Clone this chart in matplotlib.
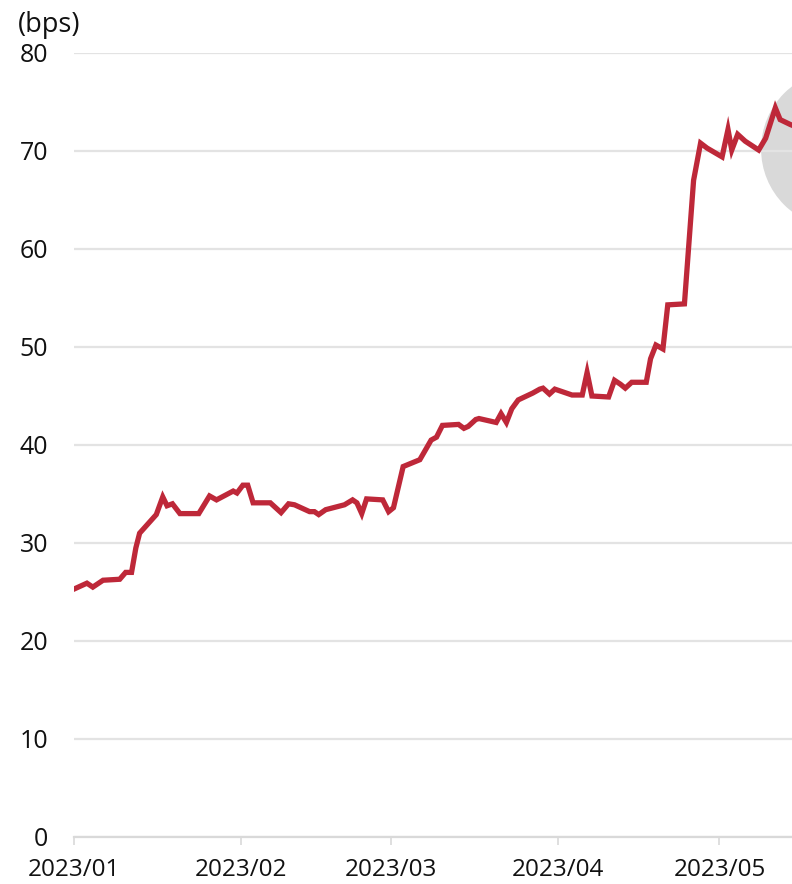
import matplotlib
matplotlib.use("Agg")
import matplotlib.pyplot as plt
import matplotlib.dates as mdates
from matplotlib.patches import Ellipse
import pandas as pd

plt.rcParams['font.family'] = ['Open Sans', 'DejaVu Sans']

# observation times (days after 2023-01-01) and spread values (bps)
day_offsets = [0, 2.4, 3.5, 5.4, 8.5, 9.6, 10.7, 11.5, 12.2, 15.3, 16.5, 17.3, 18.3, 19.7,
               23.2, 25.2, 26.5, 29.6, 30.3, 31.4, 32.3, 33.3, 36.5, 38.5, 39.9, 41.0, 43.8,
               44.7, 45.5, 46.8, 50.3, 51.8, 52.6, 53.5, 54.4, 57.4, 58.5, 59.4, 61.2, 64.3,
               66.4, 67.4, 68.5, 71.5, 72.5, 73.3, 74.7, 75.3, 78.5, 79.4, 80.4, 81.4, 82.6,
               85.3, 86.6, 87.2, 88.4, 89.4, 92.6, 94.5, 95.4, 96.3, 99.4, 100.5, 101.6,
               102.5, 103.7, 106.4, 107.2, 108.2, 109.5, 110.4, 113.5, 115.2, 116.5, 117.7,
               120.5, 121.6, 122.3, 123.4, 124.8, 127.3, 128.6, 130.4, 131.3, 133.2, 135]
values = [25.3, 25.9, 25.5, 26.2, 26.3, 27.0, 27.0, 29.5, 31.0, 32.9, 34.7, 33.8, 34.0, 33.0,
          33.0, 34.8, 34.4, 35.3, 35.1, 35.9, 35.9, 34.1, 34.1, 33.1, 34.0, 33.9, 33.2,
          33.2, 32.9, 33.4, 33.9, 34.4, 34.1, 33.0, 34.5, 34.4, 33.2, 33.6, 37.8, 38.5,
          40.5, 40.8, 42.0, 42.1, 41.7, 41.9, 42.6, 42.7, 42.3, 43.2, 42.3, 43.7, 44.6,
          45.3, 45.7, 45.8, 45.2, 45.7, 45.1, 45.1, 47.4, 45.0, 44.9, 46.6, 46.2,
          45.8, 46.4, 46.4, 48.8, 50.2, 49.8, 54.3, 54.4, 67.0, 70.8, 70.3,
          69.4, 72.2, 70.1, 71.7, 71.0, 70.1, 71.3, 74.4, 73.2, 72.7, 72.3]

y_ticks = [0, 10, 20, 30, 40, 50, 60, 70, 80]
x_tick_labels = ['2023/01', '2023/02', '2023/03', '2023/04', '2023/05']
x_tick_dates = ['2023-01-01', '2023-02-01', '2023-03-01', '2023-04-01', '2023-05-01']

start = pd.Timestamp('2023-01-01')
dates = [start + pd.Timedelta(days=d) for d in day_offsets]

fig = plt.figure(figsize=(7.92, 8.84), dpi=100)
ax = fig.add_axes([74/792, 1 - 837/884, 1 - 74/792, (837 - 53)/884])

red = '#BE2839'
ax.plot(dates, values, color=red, lw=3.8, solid_joinstyle='miter', zorder=3)

# highlight ellipse at the right edge
cx = mdates.date2num(start + pd.Timedelta(days=142.4))
ell = Ellipse((cx, 70.2), width=29.3, height=16.1, facecolor='#d9d9d9',
              edgecolor='none', zorder=0.3, clip_on=False)
ax.add_patch(ell)

x0 = mdates.date2num(start)
ax.set_xlim(x0, x0 + 133.5)
ax.set_ylim(0, 80)
ax.set_yticks(y_ticks)
ax.set_yticklabels([str(t) for t in y_ticks])
ax.set_xticks([mdates.date2num(pd.Timestamp(d)) for d in x_tick_dates])
ax.set_xticklabels(x_tick_labels)

ax.grid(axis='y', color='#e3e3e3', lw=1.6)
ax.set_axisbelow(True)
for s in ['top', 'right', 'left']:
    ax.spines[s].set_visible(False)
ax.spines['bottom'].set_color('#d9d9d9')
ax.spines['bottom'].set_linewidth(1.6)

ax.tick_params(axis='y', length=0, pad=18.5, labelsize=18, labelcolor='#111111')
ax.tick_params(axis='x', length=6, width=1.2, color='#d9d9d9', pad=9, labelsize=17.5,
               labelcolor='#111111')

fig.text(18/792, 1 - 25/884, '(bps)', fontsize=19.5, ha='left', va='center', color='#111111')

fig.savefig('out.png', dpi=100)
